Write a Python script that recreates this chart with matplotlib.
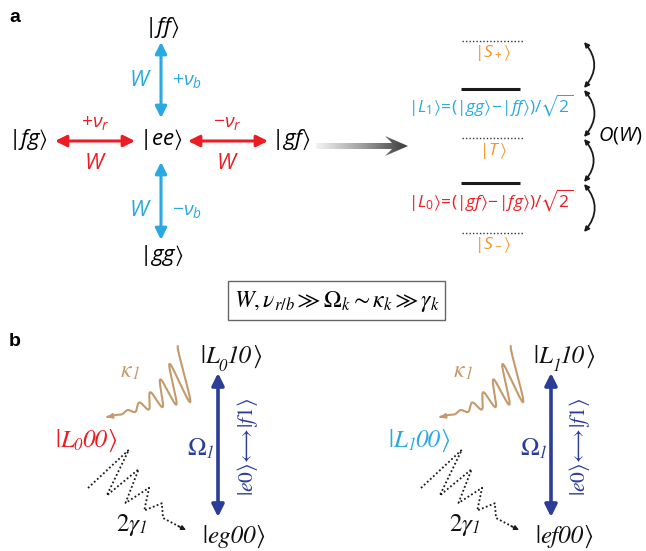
import numpy as np
import matplotlib.pyplot as plt
from matplotlib.patches import FancyArrowPatch, Rectangle, Polygon
from matplotlib.path import Path
from matplotlib.colors import LinearSegmentedColormap

plt.rcParams['mathtext.fontset'] = 'custom'
plt.rcParams['mathtext.rm'] = 'Open Sans'
plt.rcParams['mathtext.it'] = 'Open Sans:italic'
plt.rcParams['mathtext.bf'] = 'Open Sans:bold'
plt.rcParams['mathtext.fallback'] = 'stixsans'

SKY = '#29a9e1'
RED = '#ec1c24'
ORANGE = '#f7931e'
TAN = '#c49a6c'
NAVY = '#2b3d97'
SERIF = ['STIXGeneral', 'DejaVu Serif']

# panel a: two-atom states coupled to |ee>
pair_states = ['ff', 'fg', 'ee', 'gf', 'gg']
blue_detunings = [r'$+\nu_b$', r'$-\nu_b$']
red_detunings = [r'$+\nu_r$', r'$-\nu_r$']

# dressed levels, top to bottom
level_labels = [r'$|S_+\rangle$', r'$|L_1\rangle\!=\!(|gg\rangle\!-\!|ff\rangle)/\sqrt{2}$',
                r'$|T\,\rangle$', r'$|L_0\rangle\!=\!(|gf\rangle\!-\!|fg\rangle)/\sqrt{2}$',
                r'$|S_-\rangle$']
level_colors = [ORANGE, SKY, ORANGE, RED, ORANGE]
level_dark = [False, True, False, True, False]

# panel b: the two driven cascades (dark-state index, photon-free label)
dark_index = ['0', '1']
bottom_pair = ['eg', 'ef']
side_colors = [RED, SKY]
zigzag_amps = [42, 30, 19, 11]

fig = plt.figure(figsize=(6.46, 5.51), dpi=100)
ax = fig.add_axes([0, 0, 1, 1])
ax.axis('off')
ax.set_xlim(0, 646)
ax.set_ylim(551, 0)
renderer = fig.canvas.get_renderer()


def arrow(p0, p1, color, lw, ms, style='<|-|>', rad=0.0):
    a = FancyArrowPatch(p0, p1, arrowstyle=style, mutation_scale=ms, lw=lw,
                        color=color, shrinkA=0, shrinkB=0,
                        connectionstyle=f'arc3,rad={rad}')
    ax.add_patch(a)


def chain(x, y, parts, color='#111111'):
    # pieces of (text, size, drop, italic) laid out left to right on one baseline
    for s, size, drop, it in parts:
        t = ax.text(x, y + drop, s, fontsize=size, color=color, family=SERIF,
                    style='italic' if it else 'normal', ha='left', va='baseline')
        x += t.get_window_extent(renderer).width


# ---- panel a, left: star of couplings
ax.text(15, 18, 'a', fontsize=14, fontweight='bold', family='Liberation Sans',
        ha='center', va='center')
state_xy = [(162, 27), (28, 140), (161, 140), (291, 140), (161, 255)]
for s, (x, y) in zip(pair_states, state_xy):
    ax.text(x, y, rf'$|{s}\rangle$', fontsize=16, ha='center', va='center')

arrow((161, 42), (161, 118), SKY, 2.2, 17)
arrow((161, 162), (161, 240), SKY, 2.2, 17)
arrow((55, 141), (135, 141), RED, 2.2, 17)
arrow((188, 141), (268, 141), RED, 2.2, 17)

for lab, y in zip(blue_detunings, [80, 210]):
    ax.text(140, y, r'$W$', fontsize=16, color=SKY, ha='center', va='center')
    ax.text(187, y, lab, fontsize=14, color=SKY, ha='center', va='center')
for lab, x in zip(red_detunings, [95, 227]):
    ax.text(x, 122, lab, fontsize=14, color=RED, ha='center', va='center')
    ax.text(x, 163, r'$W$', fontsize=16, color=RED, ha='center', va='center')

# gradient arrow pointing to the dressed picture
x0, x1, yc = 316, 408, 146
shape = Polygon([(x0, yc - 3), (x1 - 16, yc - 3), (x1 - 23, yc - 10), (x1, yc),
                 (x1 - 23, yc + 10), (x1 - 16, yc + 3), (x0, yc + 3)],
                closed=True, fc='none', ec='none')
ax.add_patch(shape)
grey = LinearSegmentedColormap.from_list('grey', ['#f4f4f4', '#a0a0a0', '#3a3a3a'])
im = ax.imshow(np.linspace(0, 1, 256).reshape(1, -1), cmap=grey, aspect='auto',
               extent=(x0, x1, yc + 11, yc - 11), interpolation='bicubic')
im.set_clip_path(shape)

# ---- panel a, right: dressed levels
level_y = [41, 89, 138, 183, 233]
label_y = [53, 105, 151, 200, 245]
for lab, col, dark, yl, yt in zip(level_labels, level_colors, level_dark, level_y, label_y):
    if dark:
        ax.plot([461, 520], [yl, yl], color='#1a1a1a', lw=2.2, solid_capstyle='butt')
        ax.text(491, yt, lab, fontsize=12.5, color=col, ha='center', va='center')
    else:
        ax.plot([462, 523], [yl, yl], color='#333333', lw=1.0, ls=(0, (1, 1.5)))
        ax.text(493, yt, lab, fontsize=12.5, color=col, ha='center', va='center')

for ya, yb in zip(level_y[:-1], level_y[1:]):
    arrow((584, ya + 1), (584, yb - 1), '#1a1a1a', 1.3, 7, rad=-0.42)
ax.text(620, 136, r'$O(W)$', fontsize=14.5, ha='center', va='center')

# hierarchy of rates
ax.add_patch(Rectangle((228, 281), 217, 39, fc='none', ec='#666666', lw=1.0))
ax.text(337, 301, r'$W,\nu_{r/b}\gg\Omega_k{\sim}\kappa_k\gg\gamma_k$', fontsize=17,
        math_fontfamily='stix', ha='center', va='center')

# ---- panel b
ax.text(15, 342, 'b', fontsize=14, fontweight='bold', family='Liberation Sans',
        ha='center', va='center')


def cavity_wave(dx):
    # chirped decay photon: baseline from arrow tip up to the emitting end
    t = np.linspace(0, 1, 600)
    bx = 107 + dx + 90 * t
    by = 417 - 16 * t
    d = 55 * t ** 2 * (1 - np.cos(2 * np.pi * 6.5 * t)) / 2
    pts = np.column_stack([bx - 0.35 * d, by - d])[::-1]
    ax.add_patch(FancyArrowPatch(path=Path(pts), arrowstyle='-|>', mutation_scale=7,
                                 lw=1.5, color=TAN))


def spont_decay(dx):
    step, slope = 18.75, 0.4
    pts = []
    for k, a in enumerate(zigzag_amps):
        vx = 88 + dx + k * step
        vy = 488 + k * step * slope
        pts.append((vx, vy))
        pts.append((vx + step / 2 + 0.75 * a, vy + step / 2 * slope - a))
    vx = 88 + dx + len(zigzag_amps) * step
    pts.append((vx, 488 + len(zigzag_amps) * step * slope))
    pts.append((vx + 19, pts[-1][1] + 10))
    pts = np.array(pts)
    ax.plot(pts[:, 0], pts[:, 1], color='#1a1a1a', lw=1.3, ls=(0, (1, 1.3)))
    arrow(tuple(pts[-1] - [4, 2]), (pts[-1][0] + 4, pts[-1][1] + 2), '#1a1a1a',
          1.0, 7, style='-|>')


for i, dx in enumerate([0, 333]):
    k = dark_index[i]
    chain(200 + dx, 363, [('|', 18, 0, False), ('L', 18, 0, True), (k, 12, 8, True),
                          ('10', 18, 0, True), ('⟩', 18, 0, False)])
    chain(202 + dx, 543, [('|', 18, 0, False), (bottom_pair[i] + '00', 18, 0, True),
                          ('⟩', 18, 0, False)])
    chain(55 + dx, 447, [('|', 18, 0, False), ('L', 18, 0, True), (k, 12, 3, True),
                         ('00', 18, 0, True), ('⟩', 18, 0, False)], side_colors[i])
    arrow((218 + dx, 373), (218 + dx, 517), NAVY, 2.6, 18)
    chain(187 + dx, 455, [('Ω', 18, 0, False), ('1', 12, 3, True)], NAVY)
    ax.text(247 + dx, 447, r'$|e0\rangle\!\longleftrightarrow\!|f1\rangle$', fontsize=15.5,
            math_fontfamily='stix', color=NAVY, rotation=90, ha='center', va='center')
    chain(121 + dx, 377, [('κ', 17, 0, True), ('1', 12, 2, True)], TAN)
    chain(116 + dx, 531, [('2', 18, 0, False), ('γ', 18, 0, True), ('1', 12, 2, True)])
    cavity_wave(dx)
    spont_decay(dx)

ax.set_xlim(0, 646)
ax.set_ylim(551, 0)

plt.savefig('out.png', dpi=100)
